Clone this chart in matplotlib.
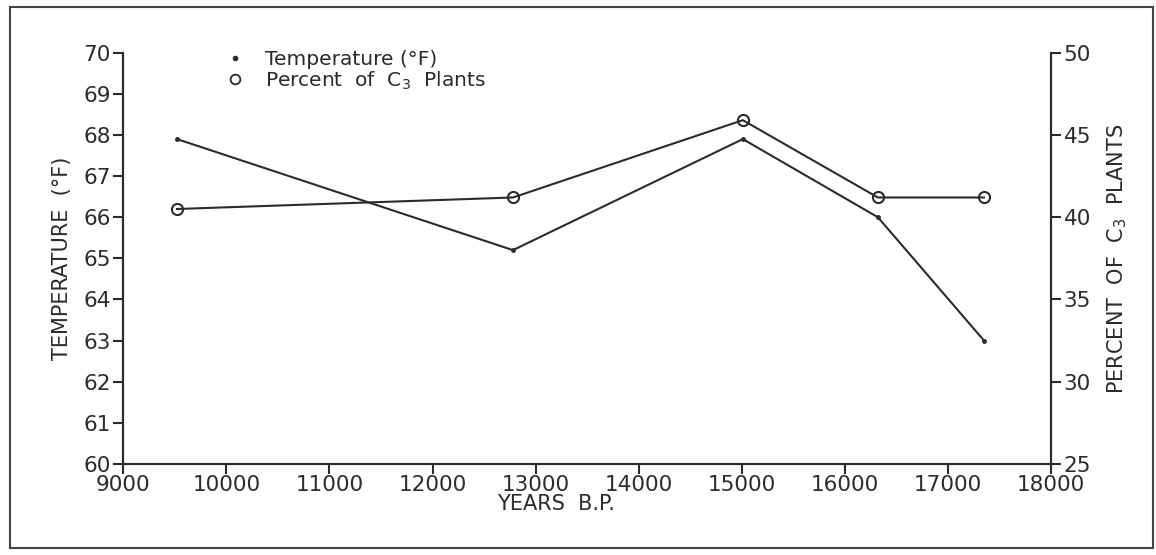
import matplotlib
matplotlib.use("Agg")
import matplotlib.pyplot as plt
from matplotlib.lines import Line2D
from matplotlib.patches import Rectangle

plt.rcParams['font.family'] = ['DejaVu Sans']
plt.rcParams['mathtext.default'] = 'regular'

# data
years = [9520, 12780, 15010, 16320, 17350]
temperature = [67.9, 65.2, 67.9, 66.0, 63.0]
c3_years = [9520, 12780, 15010, 16320, 17350]
c3_percent = [40.5, 41.2, 45.9, 41.2, 41.2]

x_ticks = list(range(9000, 18001, 1000))
temp_ticks = list(range(60, 71))
pct_ticks = list(range(25, 51, 5))

ink = '#2b2b2b'

fig = plt.figure(figsize=(11.56, 5.55), dpi=100)
ax = fig.add_axes([0.1067, 0.164, 0.8025, 0.741])
ax2 = ax.twinx()

ax.plot(years, temperature, color=ink, lw=1.5, marker='o', markersize=2.5)
ax2.plot(c3_years, c3_percent, color=ink, lw=1.5, marker='o', markersize=8,
         markerfacecolor='none', markeredgewidth=1.5)

ax.set_xlim(9000, 18000)
ax.set_ylim(60, 70)
ax2.set_ylim(25, 50)
ax.set_xticks(x_ticks)
ax.set_yticks(temp_ticks)
ax2.set_yticks(pct_ticks)

for a in (ax, ax2):
    a.spines['top'].set_visible(False)
    for s in a.spines.values():
        s.set_linewidth(1.5)
        s.set_color(ink)
    a.tick_params(direction='out', length=7, width=1.5, colors=ink,
                  labelsize=15.5, pad=2)
ax.tick_params(axis='x', pad=1)

ax.set_xlabel('YEARS  B.P.', fontsize=15, color=ink)
ax.xaxis.set_label_coords(0.466, -0.074)
ax.set_ylabel('TEMPERATURE  (°F)', fontsize=15, color=ink)
ax.yaxis.set_label_coords(-0.055, 0.5)
ax2.set_ylabel('PERCENT  OF  C$_3$  PLANTS', fontsize=15, color=ink)
ax2.yaxis.set_label_coords(1.059, 0.5)

handles = [
    Line2D([], [], linestyle='none', marker='o', markersize=3, color=ink),
    Line2D([], [], linestyle='none', marker='o', markersize=7, color=ink,
           markerfacecolor='none', markeredgewidth=1.3),
]
labels = ['Temperature (°F)', 'Percent  of  C$_3$  Plants']
ax.legend(handles, labels, loc='upper left', bbox_to_anchor=(0.09, 1.05),
          frameon=False, fontsize=14.5, handlelength=1.0, handletextpad=1.0,
          labelspacing=0.0, labelcolor=ink)

# scanned page frame
fig.patches.append(Rectangle((0.009, 0.013), 0.988, 0.975, transform=fig.transFigure,
                             fill=False, edgecolor='#444444', lw=1.5))

fig.savefig('out.png', dpi=100)
